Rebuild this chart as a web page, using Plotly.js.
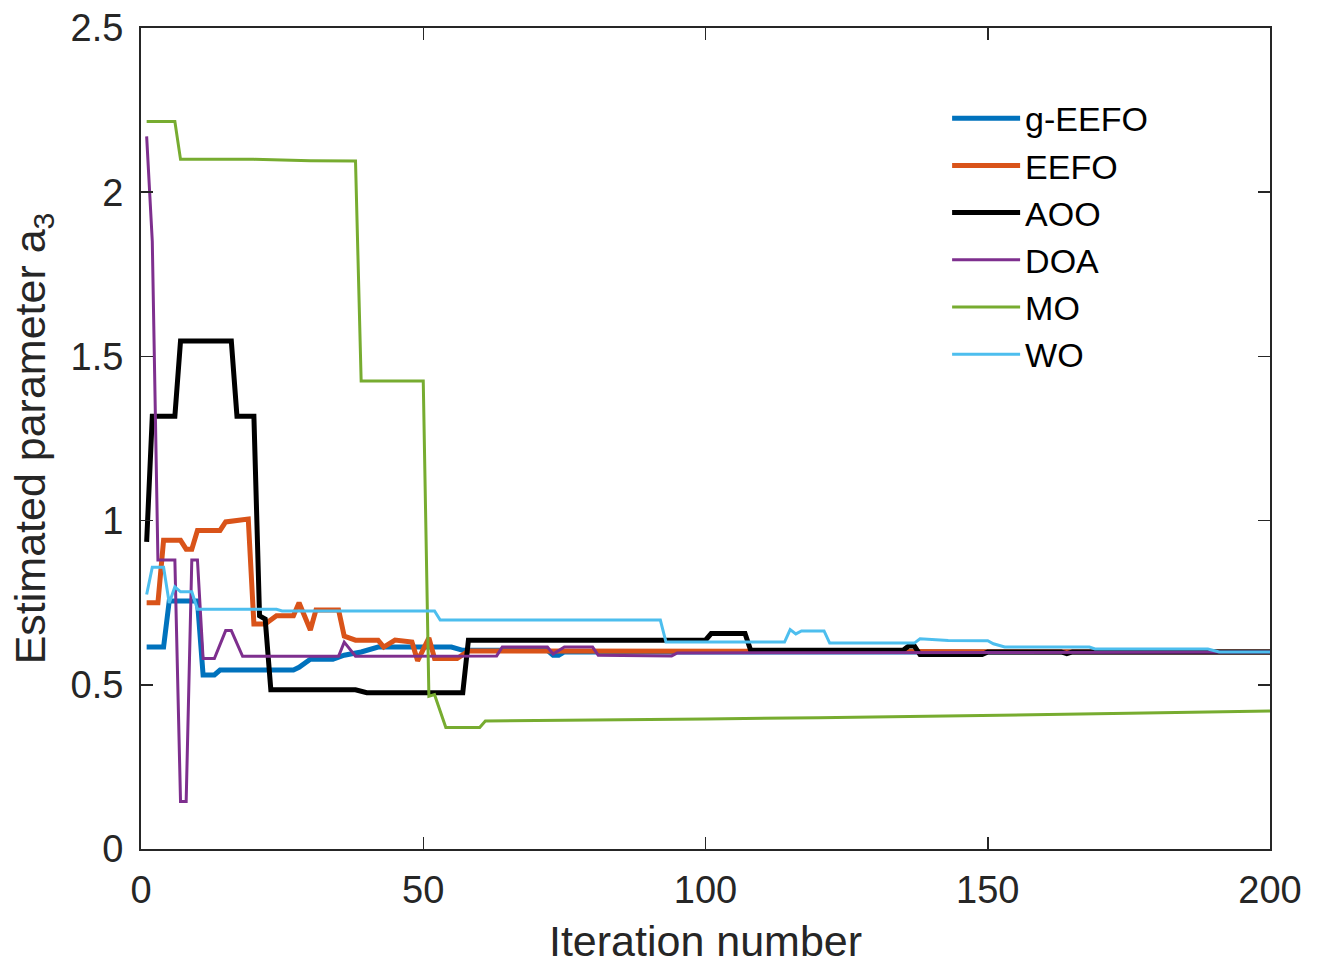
<!DOCTYPE html>
<html>
<head>
<meta charset="utf-8">
<script src="https://cdn.plot.ly/plotly-3.0.1.min.js"></script>
<style>
  html, body { margin: 0; padding: 0; background: #fff; }
  #chart { width: 1321px; height: 966px; }
</style>
</head>
<body>
<div id="chart"></div>
<script>
// ---- data ----
const geefoIter = [1, 4, 5, 10, 11, 13, 14, 27, 28, 30, 34, 36, 39, 42, 55, 57, 72, 73, 74, 75, 200];
const geefoVal  = [0.615, 0.615, 0.755, 0.755, 0.53, 0.53, 0.545, 0.545, 0.553, 0.578, 0.578, 0.59, 0.6, 0.615, 0.615, 0.605, 0.605, 0.59, 0.59, 0.6, 0.6];

const eefoIter = [1, 3, 4, 7, 8, 9, 10, 14, 15, 19, 20, 22, 24, 27, 28, 30, 31, 35, 36, 38, 42, 43, 45, 48, 49, 51, 52, 56, 58, 97, 200];
const eefoVal  = [0.75, 0.75, 0.94, 0.94, 0.913, 0.913, 0.97, 0.97, 0.996, 1.005, 0.685, 0.685, 0.71, 0.71, 0.75, 0.667, 0.728, 0.728, 0.648, 0.636, 0.636, 0.615, 0.636, 0.63, 0.573, 0.643, 0.58, 0.58, 0.603, 0.603, 0.6];

const aooIter = [1, 2, 6, 7, 16, 17, 20, 21, 22, 23, 38, 40, 57, 58, 100, 101, 107, 108, 135, 136, 137, 138, 149, 150, 163, 164, 165, 200];
const aooVal  = [0.935, 1.318, 1.318, 1.547, 1.547, 1.318, 1.318, 0.71, 0.70, 0.485, 0.485, 0.476, 0.476, 0.636, 0.636, 0.656, 0.656, 0.605, 0.605, 0.618, 0.618, 0.592, 0.592, 0.6, 0.6, 0.595, 0.6, 0.6];

const doaIter = [1, 2, 3, 6, 7, 8, 9, 10, 11, 13, 15, 16, 18, 35, 36, 38, 63, 64, 72, 73, 75, 80, 81, 94, 95, 200];
const doaVal  = [2.17, 1.85, 0.88, 0.88, 0.145, 0.145, 0.88, 0.88, 0.58, 0.58, 0.665, 0.665, 0.587, 0.587, 0.63, 0.587, 0.588, 0.615, 0.615, 0.594, 0.615, 0.615, 0.59, 0.588, 0.597, 0.6];

const moIter = [1, 6, 7, 20, 30, 38, 39, 50, 51, 52, 54, 60, 61, 80, 100, 120, 150, 175, 200];
const moVal  = [2.215, 2.215, 2.10, 2.10, 2.096, 2.095, 1.425, 1.425, 0.465, 0.47, 0.37, 0.37, 0.39, 0.392, 0.396, 0.400, 0.406, 0.413, 0.42];

const woIter = [1, 2, 4, 5, 6, 7, 9, 10, 24, 25, 52, 53, 92, 93, 114, 115, 116, 117, 121, 122, 137, 138, 143, 150, 151, 153, 168, 169, 189, 191, 200];
const woVal  = [0.775, 0.858, 0.858, 0.749, 0.798, 0.783, 0.783, 0.73, 0.73, 0.725, 0.725, 0.697, 0.697, 0.63, 0.63, 0.668, 0.655, 0.664, 0.664, 0.627, 0.627, 0.64, 0.635, 0.634, 0.625, 0.615, 0.615, 0.609, 0.609, 0.6, 0.6];

const seriesNames = ['g-EEFO', 'EEFO', 'AOO', 'DOA', 'MO', 'WO'];
const xTicks = [0, 50, 100, 150, 200];
const yTicks = [0, 0.5, 1, 1.5, 2, 2.5];
const yTickText = ['0', '0.5', '1', '1.5', '2', '2.5'];

// ---- styles ----
const colors = ['#0072BD', '#D95319', '#000000', '#7E2F8E', '#77AC30', '#4DBEEE'];
const widths = [5, 5, 5, 3, 3, 3];
const xs = [geefoIter, eefoIter, aooIter, doaIter, moIter, woIter];
const ys = [geefoVal, eefoVal, aooVal, doaVal, moVal, woVal];

const traces = seriesNames.map((n, i) => ({
  type: 'scatter', mode: 'lines', name: n,
  x: xs[i], y: ys[i],
  line: { color: colors[i], width: widths[i] }
}));

const FONT = 'Liberation Sans, Arial, Helvetica, sans-serif';
const axisCommon = {
  showgrid: false, zeroline: false,
  showline: true, linecolor: '#262626', linewidth: 2, mirror: 'ticks',
  ticks: 'inside', ticklen: 12, tickwidth: 1.5, tickcolor: '#262626',
  tickfont: { family: FONT, size: 38, color: '#262626' }
};

const layout = {
  width: 1321, height: 966,
  paper_bgcolor: '#ffffff', plot_bgcolor: '#ffffff',
  margin: { l: 141, r: 51, t: 28, b: 117 },
  showlegend: true,
  legend: {
    x: 0.714, y: 0.925, xanchor: 'left', yanchor: 'top',
    bgcolor: 'rgba(0,0,0,0)', borderwidth: 0,
    font: { family: FONT, size: 34, color: '#000' },
    itemwidth: 68, tracegroupgap: 0
  },
  xaxis: Object.assign({}, axisCommon, {
    range: [0, 200], tickvals: xTicks, ticktext: xTicks.map(String),
    ticklabelstandoff: 6,
    title: { text: 'Iteration number', font: { family: FONT, size: 43, color: '#262626' }, standoff: 16 }
  }),
  yaxis: Object.assign({}, axisCommon, {
    range: [0, 2.5], tickvals: yTicks, ticktext: yTickText,
    ticklabelstandoff: 8,
    title: { text: 'Estimated parameter a<sub>3</sub>', font: { family: FONT, size: 43, color: '#262626' }, standoff: 12 }
  })
};

Plotly.newPlot('chart', traces, layout, { displayModeBar: false, staticPlot: true });
</script>
</body>
</html>
